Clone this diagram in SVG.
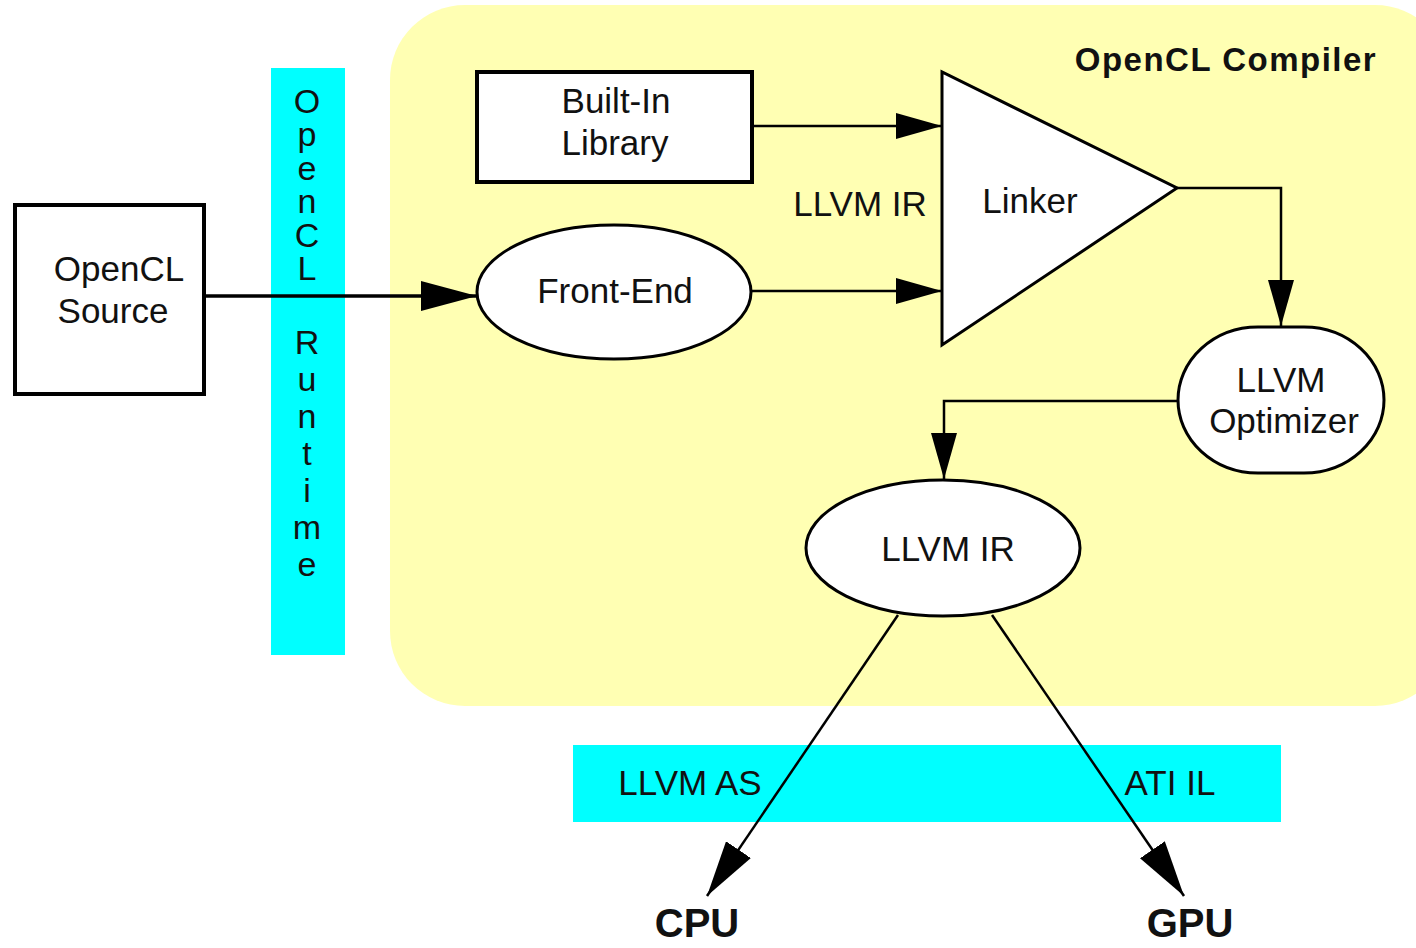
<svg xmlns="http://www.w3.org/2000/svg" width="1416" height="948" viewBox="0 0 1416 948">
<style>
  .t{font-family:"Liberation Sans",Arial,sans-serif;font-size:35px;fill:#111;text-anchor:middle}
  .b{font-family:"Liberation Sans",Arial,sans-serif;font-weight:bold;fill:#111;text-anchor:middle}
  .v{font-family:"Liberation Sans",Arial,sans-serif;font-size:34px;fill:#111;text-anchor:start;writing-mode:vertical-rl;text-orientation:upright}
  .node{fill:#fff;stroke:#000;stroke-width:3}
  .box{fill:#fff;stroke:#000;stroke-width:4}
  .ln{fill:none;stroke:#000;stroke-width:2.5}
  .cyan{fill:#00ffff}
</style>
<defs>
  <marker id="ah" markerUnits="userSpaceOnUse" markerWidth="46" markerHeight="26" refX="46" refY="13" orient="auto">
    <path d="M0,0 L46,13 L0,26 z" fill="#000"/>
  </marker>
  <marker id="ahb" markerUnits="userSpaceOnUse" markerWidth="56" markerHeight="30" refX="56" refY="15" orient="auto">
    <path d="M0,0 L56,15 L0,30 z" fill="#000"/>
  </marker>
</defs>
<rect width="1416" height="948" fill="#fff"/>
<g id="compiler">
  <rect x="390" y="5" width="1060" height="701" rx="75" ry="75" fill="#ffffb3"/>
  <text class="b" x="1226" y="71" font-size="33" letter-spacing="1.5">OpenCL Compiler</text>
</g>
<g id="runtime">
  <rect class="cyan" x="271" y="68" width="74" height="587"/>
  <text class="v" x="307" y="82" letter-spacing="-4.6">OpenCL</text>
  <text class="v" x="307" y="323" letter-spacing="-1">Runtime</text>
</g>
<g id="targets-band">
  <rect class="cyan" x="573" y="745" width="708" height="77"/>
  <text class="t" x="690" y="795">LLVM AS</text>
  <text class="t" x="1170" y="795">ATI IL</text>
</g>
<g id="connectors">
  <line x1="205" y1="296" x2="477" y2="296" stroke="#000" stroke-width="3.5" marker-end="url(#ahb)"/>
  <line class="ln" x1="752" y1="126" x2="942" y2="126" marker-end="url(#ah)"/>
  <line class="ln" x1="751" y1="291" x2="942" y2="291" marker-end="url(#ah)"/>
  <polyline class="ln" points="1177,188 1281,188 1281,326" marker-end="url(#ah)"/>
  <polyline class="ln" points="1178,401 944,401 944,479" marker-end="url(#ah)"/>
  <line class="ln" x1="898" y1="615" x2="707" y2="896" stroke-width="3" marker-end="url(#ahb)"/>
  <line class="ln" x1="992" y1="615" x2="1184" y2="896" stroke-width="3" marker-end="url(#ahb)"/>
  <text class="t" x="860" y="216">LLVM IR</text>
</g>
<g id="source">
  <rect class="box" x="15" y="205" width="189" height="189"/>
  <text class="t" x="119" y="281">OpenCL</text>
  <text class="t" x="113" y="323">Source</text>
</g>
<g id="builtin">
  <rect class="box" x="477" y="72" width="275" height="110"/>
  <text class="t" x="616" y="113">Built-In</text>
  <text class="t" x="615" y="155">Library</text>
</g>
<g id="frontend">
  <ellipse class="node" cx="614" cy="292" rx="137" ry="67"/>
  <text class="t" x="615" y="303">Front-End</text>
</g>
<g id="linker">
  <polygon class="node" points="942,72 942,345 1177,188"/>
  <text class="t" x="1030" y="213">Linker</text>
</g>
<g id="optimizer">
  <rect class="node" x="1178" y="327" width="206" height="146" rx="80" ry="73"/>
  <text class="t" x="1281" y="392">LLVM</text>
  <text class="t" x="1284" y="433">Optimizer</text>
</g>
<g id="llvmir">
  <ellipse class="node" cx="943" cy="548" rx="137" ry="68"/>
  <text class="t" x="948" y="561">LLVM IR</text>
</g>
<g id="cpu">
  <text class="b" x="697" y="937" font-size="40">CPU</text>
</g>
<g id="gpu">
  <text class="b" x="1190" y="937" font-size="40">GPU</text>
</g>
</svg>
